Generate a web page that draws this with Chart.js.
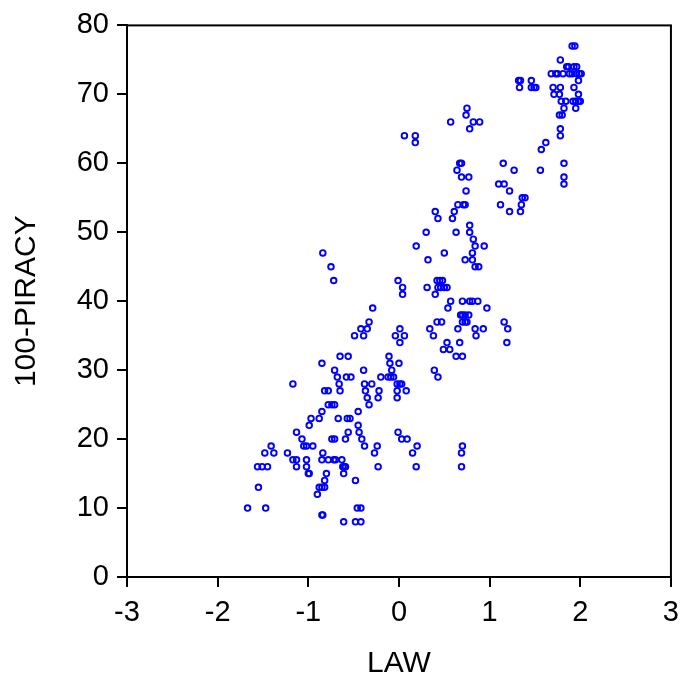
<!DOCTYPE html>
<html>
<head>
<meta charset="utf-8">
<script src="https://cdn.jsdelivr.net/npm/chart.js@4"></script>
<style>
  html, body { margin: 0; padding: 0; background: #fff; }
  #wrap { width: 688px; height: 682px; }
</style>
</head>
<body>
<div id="wrap"><canvas id="scatter" width="688" height="682"></canvas></div>
<script>
// LAW (x) and 100-PIRACY (y)
const law = [
  1.91, 1.94,
  1.78,
  1.85, 1.87, 1.93, 1.96,
  1.68, 1.73, 1.75, 1.81, 1.88, 1.91, 1.96, 1.99, 2.01,
  1.32, 1.34, 1.46, 1.98,
  1.33, 1.46, 1.49, 1.51, 1.70, 1.78, 1.93,
  1.71, 1.77, 1.98,
  1.79, 1.84, 1.92, 1.95, 1.98, 2.00,
  0.75, 1.82, 1.95,
  0.74, 1.77, 1.80,
  0.57, 0.82, 0.89,
  0.78, 1.78,
  0.06, 0.18, 1.78,
  0.18, 1.62,
  1.57,
  0.67, 0.69, 1.15, 1.82,
  0.64, 1.27, 1.56,
  0.69, 0.77, 1.82,
  1.10, 1.16, 1.82,
  0.74, 1.22,
  1.36, 1.39,
  0.65, 0.71, 0.73, 1.12, 1.35,
  0.40, 0.61, 1.22, 1.34,
  0.43, 0.59,
  0.78,
  0.30, 0.63, 0.78,
  0.82,
  0.19, 0.84, 0.94,
  -0.84, 0.50, 0.81,
  0.32, 0.73, 0.81,
  -0.75, 0.84, 0.88,
  -0.72, -0.01, 0.42, 0.45, 0.48,
  0.04, 0.31, 0.43, 0.46, 0.50, 0.53,
  0.04, 0.40,
  0.57, 0.70, 0.78, 0.81, 0.87,
  -0.29, 0.54, 0.97,
  0.68, 0.70, 0.73, 0.77,
  -0.33, 0.42, 0.47, 0.70, 0.73, 0.75, 1.16,
  -0.42, -0.35, 0.01, 0.34, 0.65, 0.84, 0.93, 1.20,
  -0.49, -0.39, -0.04, 0.06, 0.38, 0.85,
  0.01, 0.53, 0.67, 1.19,
  0.49, 0.56,
  -0.65, -0.56, -0.11, 0.63, 0.70,
  -0.85, -0.10, 0.00,
  -0.71, -0.39, -0.08, 0.39,
  -0.68, -0.58, -0.53, -0.20, -0.12, -0.09, -0.06, 0.43,
  -1.17, -0.66, -0.38, -0.30, -0.02, 0.01, 0.03,
  -0.82, -0.78, -0.65, -0.37, -0.22, -0.02, 0.08,
  -0.35, -0.23, -0.02,
  -0.78, -0.74, -0.71, -0.33,
  -0.85, -0.45,
  -0.97, -0.88, -0.67, -0.57, -0.54,
  -0.99, -0.45,
  -1.13, -0.56, -0.44, -0.01,
  -1.07, -0.74, -0.71, -0.59, -0.41, 0.03, 0.09,
  -1.41, -1.05, -1.02, -0.95, -0.38, -0.24, 0.20, 0.70,
  -1.48, -1.38, -1.23, -0.84, -0.27, 0.15, 0.69,
  -1.17, -1.13, -1.02, -0.85, -0.78, -0.72, -0.70, -0.63,
  -1.56, -1.51, -1.45, -1.13, -1.02, -0.62, -0.60, -0.59, -0.23, 0.19, 0.69,
  -1.00, -0.99, -0.80, -0.61,
  -0.82, -0.48,
  -1.55, -0.88, -0.85, -0.82,
  -0.90,
  -1.67, -1.47, -0.46, -0.42,
  -0.85, -0.84,
  -0.61, -0.48, -0.42,
];

const piracy100 = [
  77, 77,
  75,
  74, 74, 74, 74,
  73, 73, 73, 73, 73, 73, 73, 73, 73,
  72, 72, 72, 72,
  71, 71, 71, 71, 71, 71, 71,
  70, 70, 70,
  69, 69, 69, 69, 69, 69,
  68, 68, 68,
  67, 67, 67,
  66, 66, 66,
  65, 65,
  64, 64, 64,
  63, 63,
  62,
  60, 60, 60, 60,
  59, 59, 59,
  58, 58, 58,
  57, 57, 57,
  56, 56,
  55, 55,
  54, 54, 54, 54, 54,
  53, 53, 53, 53,
  52, 52,
  51,
  50, 50, 50,
  49,
  48, 48, 48,
  47, 47, 47,
  46, 46, 46,
  45, 45, 45,
  43, 43, 43, 43, 43,
  42, 42, 42, 42, 42, 42,
  41, 41,
  40, 40, 40, 40, 40,
  39, 39, 39,
  38, 38, 38, 38,
  37, 37, 37, 37, 37, 37, 37,
  36, 36, 36, 36, 36, 36, 36, 36,
  35, 35, 35, 35, 35, 35,
  34, 34, 34, 34,
  33, 33,
  32, 32, 32, 32, 32,
  31, 31, 31,
  30, 30, 30, 30,
  29, 29, 29, 29, 29, 29, 29, 29,
  28, 28, 28, 28, 28, 28, 28,
  27, 27, 27, 27, 27, 27, 27,
  26, 26, 26,
  25, 25, 25, 25,
  24, 24,
  23, 23, 23, 23, 23,
  22, 22,
  21, 21, 21, 21,
  20, 20, 20, 20, 20, 20, 20,
  19, 19, 19, 19, 19, 19, 19, 19,
  18, 18, 18, 18, 18, 18, 18,
  17, 17, 17, 17, 17, 17, 17, 17,
  16, 16, 16, 16, 16, 16, 16, 16, 16, 16, 16,
  15, 15, 15, 15,
  14, 14,
  13, 13, 13, 13,
  12,
  10, 10, 10, 10,
  9, 9,
  8, 8, 8,
];

const xTicks = [-3, -2, -1, 0, 1, 2, 3];
const yTicks = [0, 10, 20, 30, 40, 50, 60, 70, 80];

const FONT = "'Liberation Sans', Arial, sans-serif";

// plain black box round the plot area
const frameBox = {
  id: 'frameBox',
  afterDraw(chart) {
    const { ctx, chartArea: a } = chart;
    ctx.save();
    ctx.strokeStyle = '#000';
    ctx.lineWidth = 2;
    ctx.strokeRect(a.left, a.top, a.right - a.left, a.bottom - a.top);
    ctx.restore();
  },
};

new Chart(document.getElementById('scatter'), {
  type: 'scatter',
  data: {
    datasets: [{
      label: '100-PIRACY',
      data: law.map((x, i) => ({ x, y: piracy100[i] })),
      pointStyle: 'circle',
      pointRadius: 2.8,
      pointBorderWidth: 1.9,
      pointBackgroundColor: 'rgba(0,0,0,0)',
      pointBorderColor: '#0000ff',
      pointHoverRadius: 2.8,
    }],
  },
  options: {
    responsive: false,
    animation: false,
    events: [],
    layout: { padding: { left: 0, top: 25, right: 8, bottom: 0 } },
    plugins: {
      legend: { display: false },
      tooltip: { enabled: false },
    },
    scales: {
      x: {
        type: 'linear',
        min: -3,
        max: 3,
        afterBuildTicks: s => { s.ticks = xTicks.map(v => ({ value: v })); },
        afterFit: s => { s.height = 105; },
        ticks: { color: '#000', font: { family: FONT, size: 29 }, padding: 9, maxRotation: 0 },
        grid: { drawOnChartArea: false, drawTicks: true, tickLength: 10, color: '#000', lineWidth: 2 },
        border: { display: true, color: '#000', width: 2 },
        title: {
          display: true, text: 'LAW', color: '#000',
          font: { family: FONT, size: 30, lineHeight: 1.2 },
          padding: { top: 5, bottom: 0 },
        },
      },
      y: {
        type: 'linear',
        min: 0,
        max: 80,
        afterBuildTicks: s => { s.ticks = yTicks.map(v => ({ value: v })); },
        afterFit: s => { s.width = 127; },
        ticks: { color: '#000', font: { family: FONT, size: 29 }, padding: 8 },
        grid: { drawOnChartArea: false, drawTicks: true, tickLength: 10, color: '#000', lineWidth: 2 },
        border: { display: true, color: '#000', width: 2 },
        title: {
          display: true, text: '100-PIRACY', color: '#000',
          font: { family: FONT, size: 30, lineHeight: 1.2 },
          padding: { top: 9, bottom: 0 },
        },
      },
    },
  },
  plugins: [frameBox],
});
</script>
</body>
</html>
